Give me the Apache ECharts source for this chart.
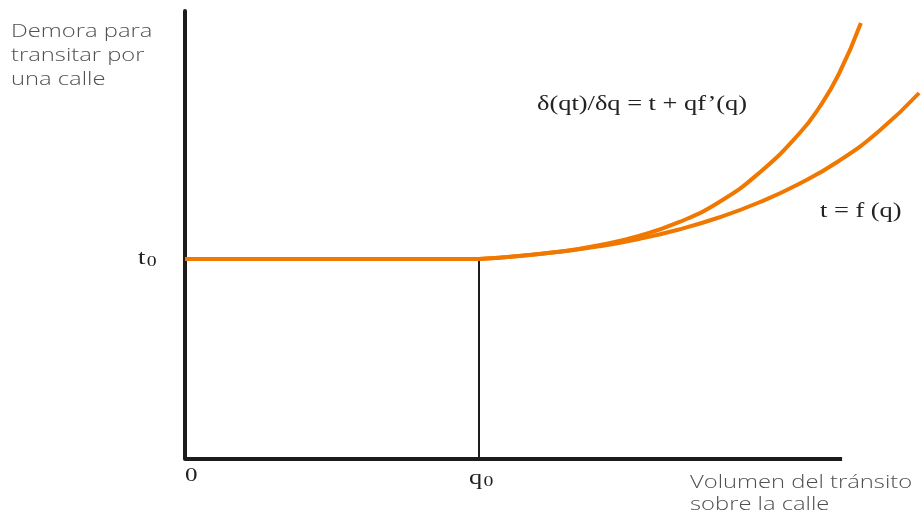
<!DOCTYPE html>
<html>
<head>
<meta charset="utf-8">
<script src="https://cdn.jsdelivr.net/npm/echarts@6/dist/echarts.min.js"></script>
<style>
  html, body { margin: 0; padding: 0; background: #fff; }
  #main { width: 922px; height: 517px; }
</style>
</head>
<body>
<div id="main"></div>
<script>
// q = volumen, t = demora ; q0 = 1, t0 = 1
var flatLine = [[0, 1], [1, 1]];
var marginalCurve = [
    [1, 1], [1.136, 1.015], [1.272, 1.036], [1.408, 1.069], [1.544, 1.1155], [1.68, 1.184],
    [1.816, 1.2835], [1.952, 1.429], [2.088, 1.625], [2.156, 1.755], [2.224, 1.925], [2.299, 2.18]
];
var costCurve = [
    [1, 1], [1.136, 1.015], [1.272, 1.036], [1.408, 1.063], [1.544, 1.10], [1.68, 1.1475],
    [1.816, 1.2075], [1.952, 1.2825], [2.088, 1.375], [2.224, 1.49], [2.361, 1.64], [2.497, 1.83]
];
var q0Line = [[1, 0], [1, 1]];
var xAxisLine = [[0, 0], [2.235, 0]];

var orange = '#f07800';
var ink = '#1c1c1c';
var serif = '"Liberation Serif", "DejaVu Serif", serif';
var sans = '"Open Sans", "Noto Sans", sans-serif';
var stretch = 1.32; // the drawing is widened horizontally

function label(x, y, text, font, fill, extra) {
    var style = { text: text, font: font, fill: fill, verticalAlign: 'top' };
    for (var k in extra) style[k] = extra[k];
    return { type: 'text', x: x, y: y, scaleX: stretch, style: style, silent: true };
}

var subRich = {
    b: { font: '20px ' + serif, fill: '#222' },
    s: { font: '15px ' + serif, fill: '#222', padding: [8, 0, 0, 1] }
};

var chart = echarts.init(document.getElementById('main'));

chart.setOption({
    animation: false,
    grid: { left: 185, right: 2, top: 11, bottom: 58 },
    xAxis: {
        type: 'value', min: 0, max: 2.5,
        axisLine: { show: false }, axisTick: { show: false },
        axisLabel: { show: false }, splitLine: { show: false }
    },
    yAxis: {
        type: 'value', min: 0, max: 2.24,
        axisLine: { show: true, lineStyle: { color: ink, width: 4 } },
        axisTick: { show: false }, axisLabel: { show: false }, splitLine: { show: false }
    },
    series: [
        {
            type: 'line', data: xAxisLine, symbol: 'none', silent: true,
            lineStyle: { color: ink, width: 4, cap: 'butt' }
        },
        {
            type: 'line', data: q0Line, symbol: 'none', silent: true,
            lineStyle: { color: ink, width: 2 }
        },
        {
            type: 'line', data: flatLine, symbol: 'none',
            lineStyle: { color: orange, width: 4 }
        },
        {
            type: 'line', data: costCurve, symbol: 'none', smooth: 0.5, clip: false,
            lineStyle: { color: orange, width: 4 }
        },
        {
            type: 'line', data: marginalCurve, symbol: 'none', smooth: 0.5, clip: false,
            lineStyle: { color: orange, width: 4 }
        }
    ],
    graphic: [
        label(11, 20, 'Demora para\ntransitar por\nuna calle', '300 18px ' + sans, '#505050', { lineHeight: 24 }),
        label(690, 472, 'Volumen del tránsito\nsobre la calle', '300 18px ' + sans, '#505050', { lineHeight: 22 }),
        label(537, 95, 'δ(qt)/δq = t + qf’(q)', '20px ' + serif, '#222'),
        label(820, 202, 't = f (q)', '20px ' + serif, '#222'),
        label(185, 467, '0', '19px ' + serif, '#222'),
        label(469, 467, '{b|q}{s|0}', '20px ' + serif, '#222', { rich: subRich }),
        label(138, 247, '{b|t}{s|0}', '20px ' + serif, '#222', { rich: subRich })
    ]
});
</script>
</body>
</html>
